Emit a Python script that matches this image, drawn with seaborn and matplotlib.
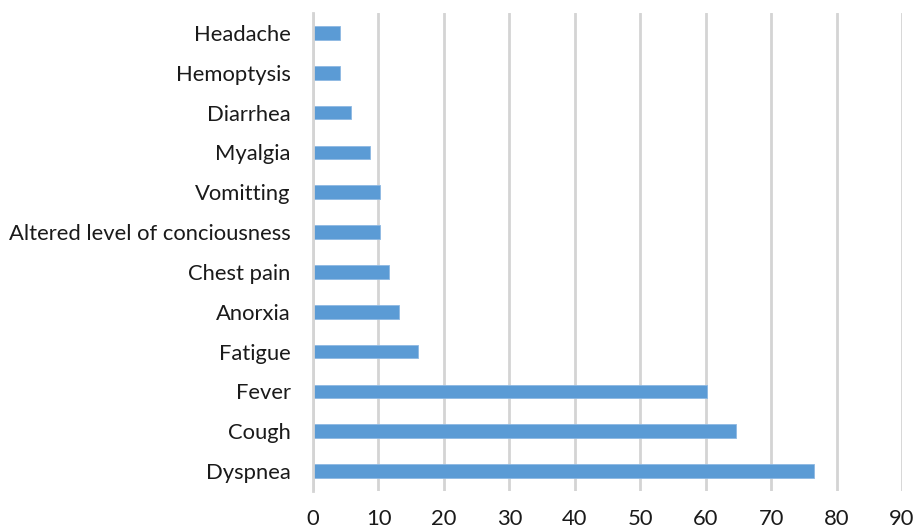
import matplotlib
matplotlib.use("Agg")
import pandas as pd
import matplotlib.pyplot as plt
import seaborn as sns

# symptoms (top to bottom) and their percentages
symptoms = ["Headache", "Hemoptysis", "Diarrhea", "Myalgia", "Vomitting",
            "Altered level of conciousness", "Chest pain", "Anorxia",
            "Fatigue", "Fever", "Cough", "Dyspnea"]
values = [4.2, 4.2, 5.8, 8.7, 10.3, 10.3, 11.6, 13.2, 16.1, 60.2, 64.7, 76.6]
xticks = [0, 10, 20, 30, 40, 50, 60, 70, 80, 90]

df = pd.DataFrame({"Symptom": symptoms, "Percent": values})

sns.set_style("white")
plt.rcParams["font.family"] = ["Lato", "DejaVu Sans"]

fig = plt.figure(figsize=(9.15, 5.30), dpi=100)
ax = fig.add_axes([313 / 915, (530 - 491) / 530, (902 - 313) / 915, (491 - 13) / 530])

sns.barplot(data=df, x="Percent", y="Symptom", color="#5B9BD5",
            saturation=1, width=0.34, edgecolor="#8DB8E3", linewidth=0.6,
            orient="h", ax=ax)

ax.set_xlim(0, 90)
ax.set_ylim(11.5, -0.5)
ax.set_xticks(xticks)
ax.xaxis.grid(True, color="#D4D4D4", linewidth=2)
ax.set_axisbelow(True)
ax.set_xlabel("")
ax.set_ylabel("")
for s in ["top", "right", "bottom"]:
    ax.spines[s].set_visible(False)
ax.spines["left"].set_color("#D4D4D4")
ax.spines["left"].set_linewidth(2)
ax.tick_params(axis="y", length=0, pad=16, labelsize=15.8, labelcolor="#1a1a1a")
ax.tick_params(axis="x", length=0, pad=13, labelsize=15.8, labelcolor="#1a1a1a")

fig.savefig("out.png", dpi=100)
